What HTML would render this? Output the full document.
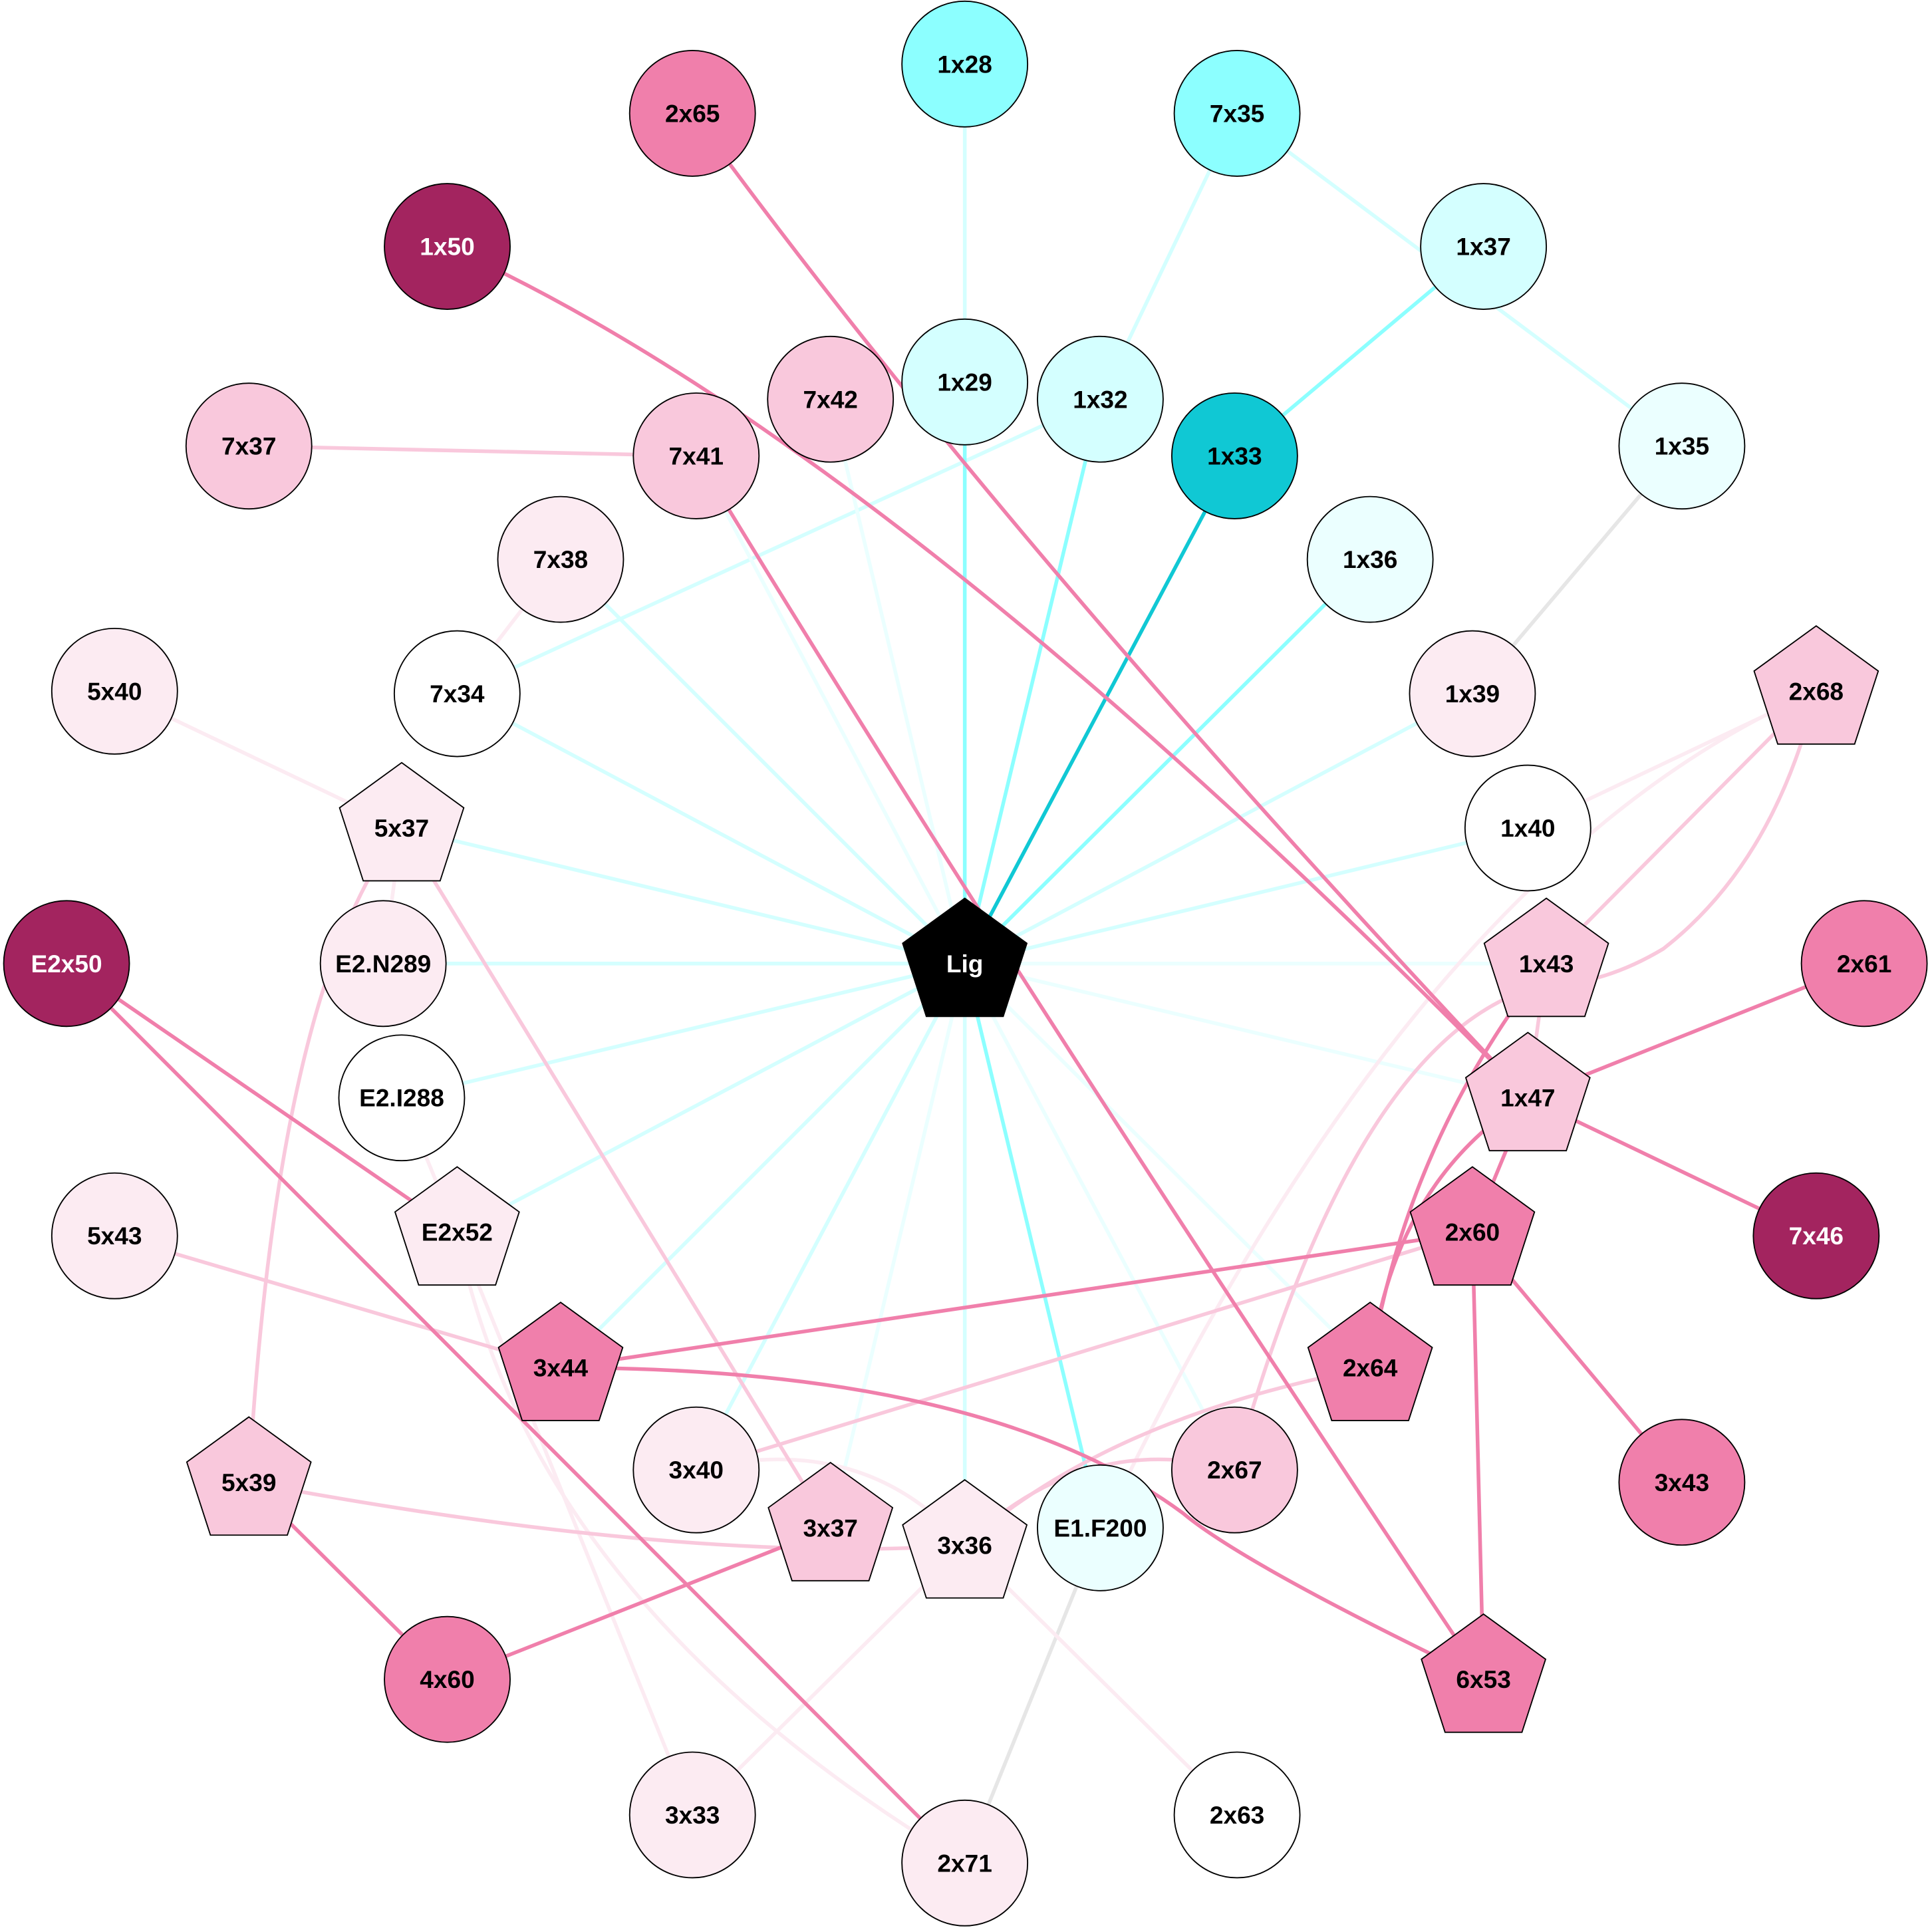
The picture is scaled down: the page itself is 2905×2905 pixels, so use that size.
<!DOCTYPE html>
<html><head><meta charset="utf-8"><style>
html,body{margin:0;padding:0;background:#fff}
svg{display:block}
text{font-family:"Liberation Sans",Arial,sans-serif;font-weight:bold;font-size:20px;text-anchor:middle;dominant-baseline:central}
</style></head><body>
<svg width="2905" height="2905" viewBox="0 0 1568 1568" xmlns="http://www.w3.org/2000/svg">
<g fill="none" stroke-width="3">
<g stroke="#d4ffff">
<line x1="783" y1="782" x2="1195" y2="563"/>
<line x1="783" y1="782" x2="1240" y2="672"/>
<line x1="783" y1="782" x2="371" y2="563"/>
<line x1="783" y1="782" x2="326" y2="672"/>
<line x1="783" y1="782" x2="311" y2="782"/>
<line x1="783" y1="782" x2="326" y2="891"/>
<line x1="783" y1="782" x2="371" y2="1000"/>
<line x1="783" y1="782" x2="455" y2="1110"/>
<line x1="783" y1="782" x2="565" y2="1193"/>
<line x1="783" y1="782" x2="783" y2="1254"/>
<line x1="783" y1="782" x2="455" y2="454"/>
<line x1="783" y1="310" x2="783" y2="52"/>
<line x1="1004" y1="92" x2="893" y2="324"/>
<line x1="1004" y1="92" x2="1365" y2="362"/>
<line x1="893" y1="324" x2="371" y2="563"/>
</g>
<g stroke="#ebffff">
<line x1="783" y1="782" x2="1255" y2="782"/>
<line x1="783" y1="782" x2="1240" y2="891"/>
<line x1="783" y1="782" x2="1112" y2="1110"/>
<line x1="783" y1="782" x2="1002" y2="1193"/>
<line x1="783" y1="782" x2="674" y2="1240"/>
<line x1="783" y1="782" x2="674" y2="324"/>
<line x1="783" y1="782" x2="565" y2="370"/>
</g>
<g stroke="#8cffff">
<line x1="783" y1="782" x2="783" y2="310"/>
<line x1="783" y1="782" x2="893" y2="324"/>
<line x1="783" y1="782" x2="1112" y2="454"/>
<line x1="783" y1="782" x2="893" y2="1240"/>
<line x1="1002" y1="370" x2="1204" y2="200"/>
</g>
<line x1="783" y1="782" x2="1002" y2="370" stroke="#10c8d4"/>
<line x1="1365" y1="362" x2="1195" y2="563" stroke="#e6e6e6"/>
<line x1="893" y1="1240" x2="783" y2="1512" stroke="#e6e6e6"/>
<g stroke="#fcebf2">
<line x1="455" y1="454" x2="371" y2="563"/>
<line x1="93" y1="561" x2="326" y2="672"/>
<line x1="326" y1="672" x2="311" y2="782"/>
<line x1="326" y1="891" x2="371" y2="1000"/>
<line x1="371" y1="1000" x2="562" y2="1473"/>
<path d="M371,1000 Q430,1300 783,1512"/>
<line x1="1474" y1="561" x2="1240" y2="672"/>
<path d="M1474,561 Q1150,700 890,1250"/>
<line x1="783" y1="1254" x2="562" y2="1473"/>
<line x1="783" y1="1254" x2="1004" y2="1473"/>
<path d="M565,1193 Q700,1160 783,1254"/>
</g>
<g stroke="#f9c8dc">
<line x1="202" y1="362" x2="565" y2="370"/>
<line x1="326" y1="672" x2="674" y2="1240"/>
<path d="M326,672 Q225,800 202,1203"/>
<line x1="93" y1="1003" x2="455" y2="1110"/>
<line x1="1195" y1="1000" x2="565" y2="1193"/>
<line x1="1474" y1="561" x2="1255" y2="782"/>
<path d="M1474,561 Q1440,700 1350,770 Q1300,800 1250,800 Q1100,840 1002,1193"/>
<line x1="1255" y1="782" x2="1240" y2="891"/>
<path d="M202,1203 Q560,1270 783,1254"/>
<path d="M783,1254 Q880,1160 1002,1193"/>
<path d="M783,1254 Q900,1150 1112,1110"/>
</g>
<g stroke="#f07fab">
<path d="M562,92 Q815,440 1240,891"/>
<path d="M363,200 Q720,360 1240,891"/>
<path d="M565,370 Q820,790 1204,1363"/>
<line x1="54" y1="782" x2="371" y2="1000"/>
<line x1="54" y1="782" x2="783" y2="1512"/>
<line x1="455" y1="1110" x2="1195" y2="1000"/>
<path d="M455,1110 Q800,1110 960,1228 Q1010,1270 1204,1363"/>
<line x1="1195" y1="1000" x2="1240" y2="891"/>
<line x1="1195" y1="1000" x2="1365" y2="1203"/>
<line x1="1195" y1="1000" x2="1204" y2="1363"/>
<line x1="1240" y1="891" x2="1513" y2="782"/>
<line x1="1240" y1="891" x2="1474" y2="1003"/>
<path d="M1240,891 Q1130,960 1112,1110"/>
<path d="M1255,782 Q1140,930 1112,1110"/>
<line x1="202" y1="1203" x2="363" y2="1363"/>
<line x1="674" y1="1240" x2="363" y2="1363"/>
</g>
</g>
<g stroke="#000" stroke-width="1">
<circle cx="783" cy="52" r="51" fill="#8cffff"/>
<circle cx="562" cy="92" r="51" fill="#f07fab"/>
<circle cx="1004" cy="92" r="51" fill="#8cffff"/>
<circle cx="363" cy="200" r="51" fill="#a3245f"/>
<circle cx="1204" cy="200" r="51" fill="#d4ffff"/>
<circle cx="674" cy="324" r="51" fill="#f9c8dc"/>
<circle cx="783" cy="310" r="51" fill="#d4ffff"/>
<circle cx="893" cy="324" r="51" fill="#d4ffff"/>
<circle cx="1002" cy="370" r="51" fill="#10c8d4"/>
<circle cx="202" cy="362" r="51" fill="#f9c8dc"/>
<circle cx="565" cy="370" r="51" fill="#f9c8dc"/>
<circle cx="1365" cy="362" r="51" fill="#ebffff"/>
<circle cx="455" cy="454" r="51" fill="#fcebf2"/>
<circle cx="1112" cy="454" r="51" fill="#ebffff"/>
<circle cx="93" cy="561" r="51" fill="#fcebf2"/>
<circle cx="371" cy="563" r="51" fill="#fff"/>
<circle cx="1195" cy="563" r="51" fill="#fcebf2"/>
<circle cx="1240" cy="672" r="51" fill="#fff"/>
<circle cx="54" cy="782" r="51" fill="#a3245f"/>
<circle cx="311" cy="782" r="51" fill="#fcebf2"/>
<circle cx="1513" cy="782" r="51" fill="#f07fab"/>
<circle cx="326" cy="891" r="51" fill="#fff"/>
<circle cx="93" cy="1003" r="51" fill="#fcebf2"/>
<circle cx="1474" cy="1003" r="51" fill="#a3245f"/>
<circle cx="565" cy="1193" r="51" fill="#fcebf2"/>
<circle cx="1002" cy="1193" r="51" fill="#f9c8dc"/>
<circle cx="1365" cy="1203" r="51" fill="#f07fab"/>
<circle cx="893" cy="1240" r="51" fill="#ebffff"/>
<circle cx="363" cy="1363" r="51" fill="#f07fab"/>
<circle cx="562" cy="1473" r="51" fill="#fcebf2"/>
<circle cx="1004" cy="1473" r="51" fill="#fff"/>
<circle cx="783" cy="1512" r="51" fill="#fcebf2"/>
</g>
<g stroke="#000" stroke-width="1">
<polygon points="0,-53 50.4,-16.4 31.2,42.9 -31.2,42.9 -50.4,-16.4" fill="#000" transform="translate(783,782)"/>
<polygon points="0,-53 50.4,-16.4 31.2,42.9 -31.2,42.9 -50.4,-16.4" fill="#f9c8dc" transform="translate(1474,561)"/>
<polygon points="0,-53 50.4,-16.4 31.2,42.9 -31.2,42.9 -50.4,-16.4" fill="#fcebf2" transform="translate(326,672)"/>
<polygon points="0,-53 50.4,-16.4 31.2,42.9 -31.2,42.9 -50.4,-16.4" fill="#f9c8dc" transform="translate(1255,782)"/>
<polygon points="0,-53 50.4,-16.4 31.2,42.9 -31.2,42.9 -50.4,-16.4" fill="#f9c8dc" transform="translate(1240,891)"/>
<polygon points="0,-53 50.4,-16.4 31.2,42.9 -31.2,42.9 -50.4,-16.4" fill="#fcebf2" transform="translate(371,1000)"/>
<polygon points="0,-53 50.4,-16.4 31.2,42.9 -31.2,42.9 -50.4,-16.4" fill="#f07fab" transform="translate(1195,1000)"/>
<polygon points="0,-53 50.4,-16.4 31.2,42.9 -31.2,42.9 -50.4,-16.4" fill="#f07fab" transform="translate(455,1110)"/>
<polygon points="0,-53 50.4,-16.4 31.2,42.9 -31.2,42.9 -50.4,-16.4" fill="#f07fab" transform="translate(1112,1110)"/>
<polygon points="0,-53 50.4,-16.4 31.2,42.9 -31.2,42.9 -50.4,-16.4" fill="#f9c8dc" transform="translate(202,1203)"/>
<polygon points="0,-53 50.4,-16.4 31.2,42.9 -31.2,42.9 -50.4,-16.4" fill="#f9c8dc" transform="translate(674,1240)"/>
<polygon points="0,-53 50.4,-16.4 31.2,42.9 -31.2,42.9 -50.4,-16.4" fill="#fcebf2" transform="translate(783,1254)"/>
<polygon points="0,-53 50.4,-16.4 31.2,42.9 -31.2,42.9 -50.4,-16.4" fill="#f07fab" transform="translate(1204,1363)"/>
</g>
<g fill="#000">
<text x="783" y="52">1x28</text><text x="562" y="92">2x65</text><text x="1004" y="92">7x35</text>
<text x="363" y="200" fill="#fff">1x50</text><text x="1204" y="200">1x37</text>
<text x="674" y="324">7x42</text><text x="783" y="310">1x29</text><text x="893" y="324">1x32</text>
<text x="1002" y="370">1x33</text><text x="202" y="362">7x37</text><text x="565" y="370">7x41</text>
<text x="1365" y="362">1x35</text><text x="455" y="454">7x38</text><text x="1112" y="454">1x36</text>
<text x="93" y="561">5x40</text><text x="371" y="563">7x34</text><text x="1195" y="563">1x39</text>
<text x="1474" y="561">2x68</text><text x="326" y="672">5x37</text><text x="1240" y="672">1x40</text>
<text x="54" y="782" fill="#fff">E2x50</text><text x="311" y="782">E2.N289</text>
<text x="783" y="782" fill="#fff">Lig</text><text x="1255" y="782">1x43</text><text x="1513" y="782">2x61</text>
<text x="326" y="891">E2.I288</text><text x="1240" y="891">1x47</text>
<text x="371" y="1000">E2x52</text><text x="93" y="1003">5x43</text><text x="1195" y="1000">2x60</text>
<text x="1474" y="1003" fill="#fff">7x46</text><text x="455" y="1110">3x44</text><text x="1112" y="1110">2x64</text>
<text x="565" y="1193">3x40</text><text x="1002" y="1193">2x67</text><text x="1365" y="1203">3x43</text>
<text x="202" y="1203">5x39</text><text x="674" y="1240">3x37</text><text x="783" y="1254">3x36</text>
<text x="893" y="1240">E1.F200</text><text x="363" y="1363">4x60</text><text x="1204" y="1363">6x53</text>
<text x="562" y="1473">3x33</text><text x="1004" y="1473">2x63</text><text x="783" y="1512">2x71</text>
</g>
</svg>
</body></html>
